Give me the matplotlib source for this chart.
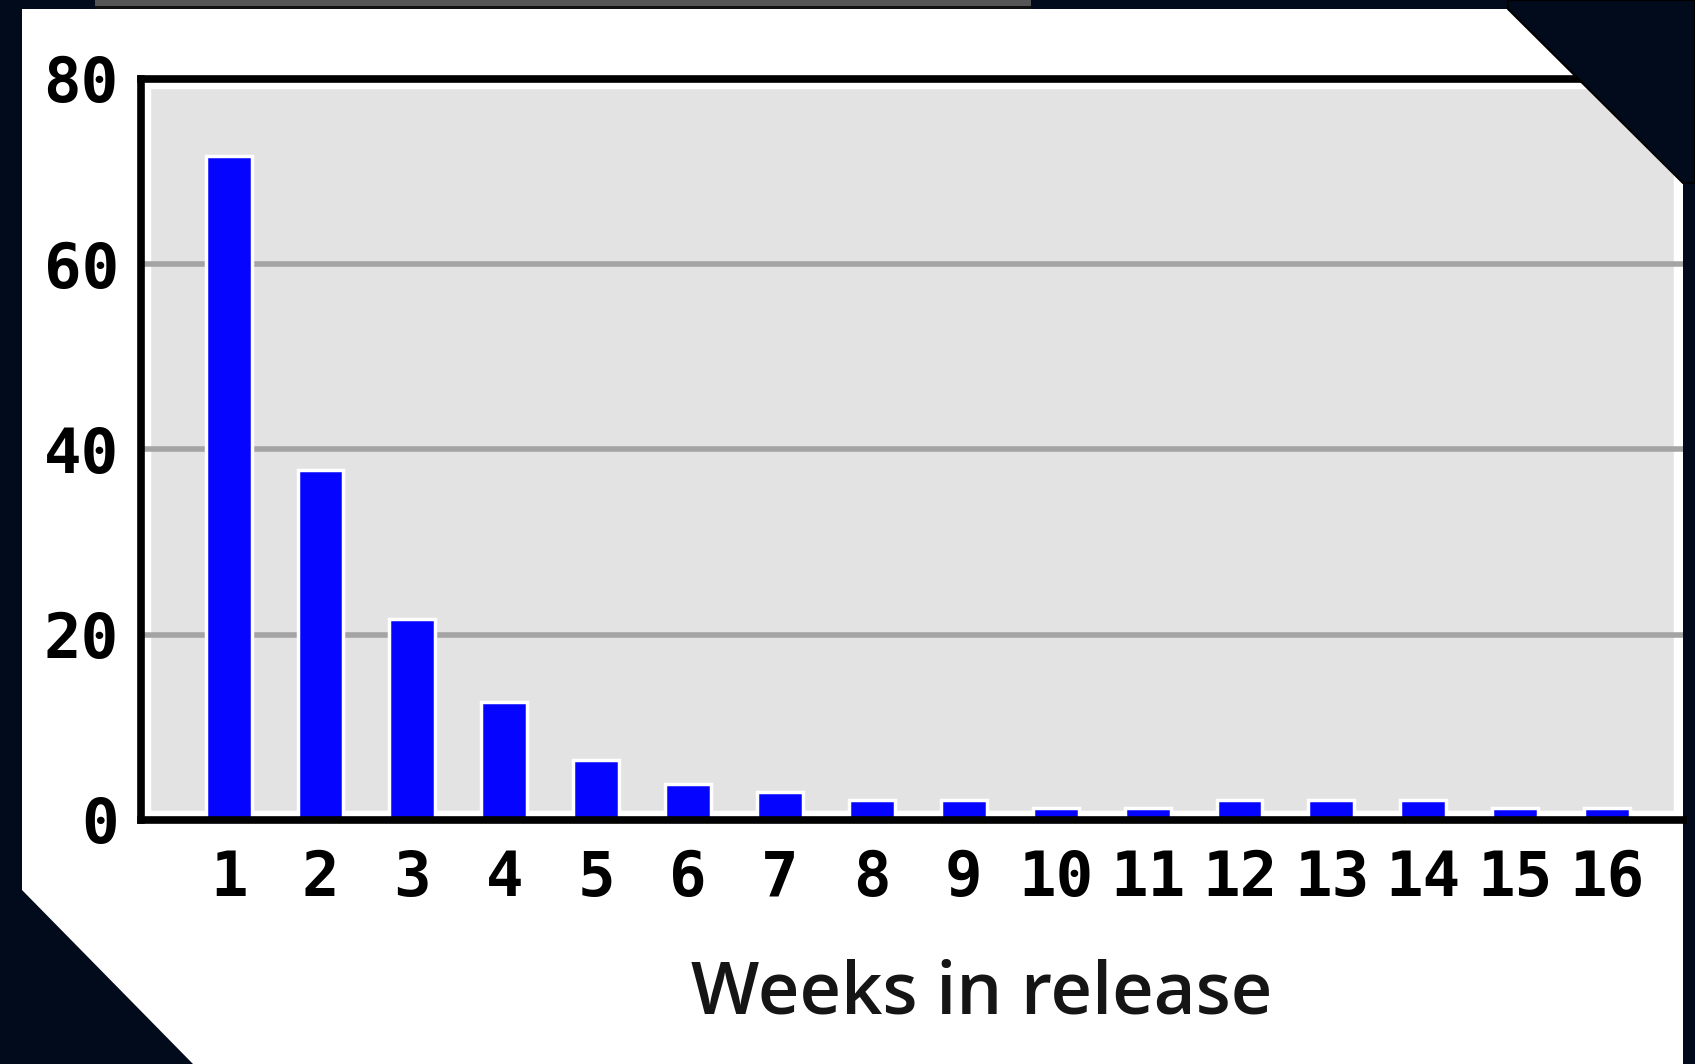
import matplotlib
matplotlib.use("Agg")
import matplotlib.pyplot as plt
from matplotlib.patches import Polygon, Rectangle

# data
weeks = list(range(1, 17))
values = [71.7, 37.8, 21.7, 12.7, 6.5, 3.9, 3.0, 2.2,
          2.2, 1.3, 1.3, 2.2, 2.2, 2.2, 1.3, 1.3]
y_ticks = [0, 20, 40, 60, 80]
x_label = "Weeks in release"

W, H = 1695, 1064
BG = "#020b1c"


def px(x, y):
    # pixel position (y from the top) -> figure fraction
    return (x / W, 1 - y / H)


fig = plt.figure(figsize=(W / 100, H / 100), dpi=100, facecolor=BG)

# white panel with the two cut corners
panel = Polygon([px(22, 9), px(1508, 9), px(1683, 183), px(1683, H),
                 px(193, H), px(22, 890)],
                closed=True, transform=fig.transFigure,
                facecolor="white", edgecolor="none", zorder=-2)
fig.add_artist(panel)

# grey strip along the top edge
fig.add_artist(Rectangle(px(95, 9), (1031 - 95) / W, 9 / H,
                         transform=fig.transFigure, facecolor="#111111",
                         edgecolor="none", zorder=-1))
fig.add_artist(Rectangle(px(95, 6), (1031 - 95) / W, 6 / H,
                         transform=fig.transFigure, facecolor="#555555",
                         edgecolor="none", zorder=-1))

left, right = 141, 1683
top, bottom = 79, 820
ax = fig.add_axes([left / W, 1 - bottom / H, (right - left) / W, (bottom - top) / H])
ax.set_facecolor("#e3e3e3")

ax.bar(weeks, values, width=0.5, color="#0505ff", edgecolor="white",
       linewidth=2.5, zorder=2)

ax.set_xlim(0.047, 16.826)
ax.set_ylim(0, 80)
ax.set_xticks(weeks)
ax.set_xticklabels([str(w) for w in weeks])
ax.set_yticks(y_ticks)

ax.set_axisbelow(True)
ax.yaxis.grid(True, color="#a4a4a4", linewidth=4)
ax.xaxis.grid(False)

# white inner margin inside the black frame
ax.add_patch(Rectangle((0, 0), 1, 1, transform=ax.transAxes, fill=False,
                       edgecolor="white", linewidth=14, zorder=0.2))

for side in ["left", "top", "bottom"]:
    ax.spines[side].set_linewidth(5.5)
    ax.spines[side].set_color("black")
ax.spines["right"].set_visible(False)

tick_font = dict(family="DejaVu Sans Mono", weight="bold", size=45)
ax.tick_params(axis="both", length=0, colors="black")
ax.tick_params(axis="x", pad=21)
ax.tick_params(axis="y", pad=16)
for lab in ax.get_xticklabels() + ax.get_yticklabels():
    lab.set_fontfamily(tick_font["family"])
    lab.set_fontweight(tick_font["weight"])
    lab.set_fontsize(tick_font["size"])

fig.text(982 / W, 1 - 1014 / H, x_label, ha="center", va="baseline",
         fontsize=52, family="Open Sans", weight="semibold", color="#151515")

# dark top-right corner cut, drawn over the axes
corner = Polygon([px(1508, 9), px(1683, 183), px(W, 183), px(W, 0), px(1508, 0)],
                 closed=True, transform=fig.transFigure, facecolor=BG,
                 edgecolor="black", linewidth=1.5, zorder=10)
fig.add_artist(corner)

fig.savefig("out.png", dpi=100, facecolor=BG)
